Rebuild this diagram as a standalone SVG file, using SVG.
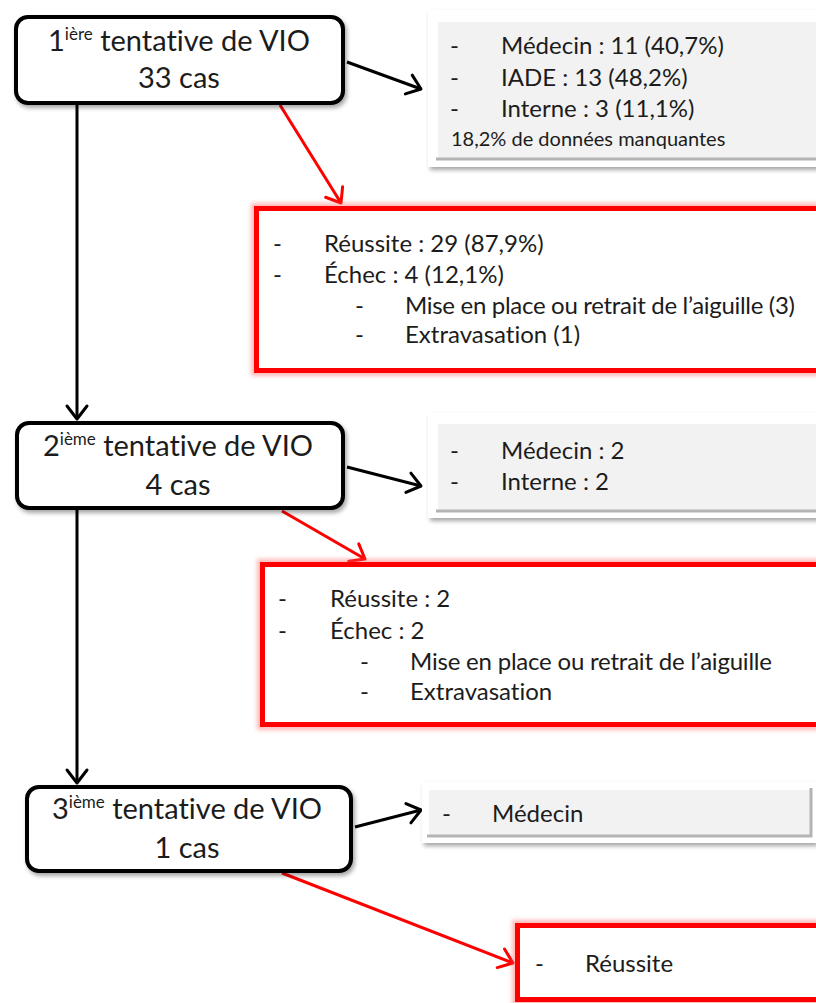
<svg xmlns="http://www.w3.org/2000/svg" width="816" height="1003" viewBox="0 0 816 1003">
<defs>
<style>
text{font-family:Lato,"Open Sans","Liberation Sans",sans-serif;fill:#1c1c1c;font-variant-ligatures:none;font-feature-settings:"liga" 0}
.t{font-size:29px}
.sup{font-size:17px}
.l{font-size:24px}
.s{font-size:20px}
.node{fill:#fff;stroke:#000;stroke-width:4}
.frame{fill:#fff}
.panel{fill:#f2f2f2}
.bev{fill:none;stroke:#b4b4b4;stroke-width:3}
.hl{fill:none;stroke:#fff;stroke-width:2}
.red{fill:#fff;stroke:#ff0000;stroke-width:5}
.glow{fill:none;stroke:#ff6060;stroke-width:11;opacity:.45}
.blk{fill:none;stroke:#000;stroke-width:3}
.rd{fill:none;stroke:#ff0000;stroke-width:3}
</style>
<filter id="sh" x="-10%" y="-10%" width="130%" height="140%">
<feDropShadow dx="2" dy="3" stdDeviation="2" flood-color="#000" flood-opacity="0.35"/>
</filter>
<filter id="bl" x="-10%" y="-20%" width="120%" height="140%">
<feGaussianBlur stdDeviation="2"/>
</filter>
<marker id="ab" markerUnits="userSpaceOnUse" markerWidth="20" markerHeight="26" viewBox="0 0 20 26" refX="16" refY="13" orient="auto">
<path d="M3,3 L16,13 L3,23" fill="none" stroke="#000" stroke-width="3" stroke-linecap="round" stroke-linejoin="round"/>
</marker>
<marker id="ar" markerUnits="userSpaceOnUse" markerWidth="20" markerHeight="26" viewBox="0 0 20 26" refX="16" refY="13" orient="auto">
<path d="M3,3 L16,13 L3,23" fill="none" stroke="#ff0000" stroke-width="3" stroke-linecap="round" stroke-linejoin="round"/>
</marker>
</defs>
<rect width="816" height="1003" fill="#fff"/>

<g id="connectors">
<line class="blk" x1="77" y1="105" x2="77" y2="419" marker-end="url(#ab)"/>
<line class="blk" x1="77" y1="510" x2="77" y2="783" marker-end="url(#ab)"/>
<line class="blk" x1="347" y1="62" x2="421" y2="89" marker-end="url(#ab)"/>
<line class="blk" x1="347" y1="467" x2="421" y2="486" marker-end="url(#ab)"/>
<line class="blk" x1="355" y1="827" x2="421" y2="810" marker-end="url(#ab)"/>
<line class="rd" x1="280" y1="105" x2="341" y2="203" marker-end="url(#ar)"/>
<line class="rd" x1="282" y1="511" x2="365" y2="559" marker-end="url(#ar)"/>
<line class="rd" x1="282" y1="873" x2="513" y2="963" marker-end="url(#ar)"/>
</g>

<g id="node1">
<rect class="node" x="16" y="17" width="327" height="86" rx="12" filter="url(#sh)"/>
<text class="t" x="179" y="51" text-anchor="middle">1<tspan class="sup" dy="-11">ière</tspan><tspan dy="11"> tentative de VIO</tspan></text>
<text class="t" x="179" y="88" text-anchor="middle">33 cas</text>
</g>

<g id="info1">
<rect class="frame" x="428" y="10" width="400" height="157" filter="url(#sh)"/>
<rect class="panel" x="436" y="20" width="400" height="140"/>
<polyline class="hl" points="437,159 437,21 836,21"/>
<line class="bev" x1="436" y1="159" x2="836" y2="159"/>
<text class="l" x="450" y="54">-</text>
<text class="l" x="501" y="54">Médecin : 11 (40,7%)</text>
<text class="l" x="450" y="86">-</text>
<text class="l" x="501" y="86">IADE : 13 (48,2%)</text>
<text class="l" x="450" y="117">-</text>
<text class="l" x="501" y="117">Interne : 3 (11,1%)</text>
<text class="s" x="451" y="146">18,2% de données manquantes</text>
</g>

<g id="result1">
<rect class="glow" x="256.5" y="208.5" width="600" height="162" filter="url(#bl)"/>
<rect class="red" x="256.5" y="208.5" width="600" height="162"/>
<text class="l" x="273" y="252">-</text>
<text class="l" x="324" y="252">Réussite : 29 (87,9%)</text>
<text class="l" x="273" y="283">-</text>
<text class="l" x="324" y="283">Échec : 4 (12,1%)</text>
<text class="l" x="355" y="314">-</text>
<text class="l" x="405" y="314" textLength="390" lengthAdjust="spacing">Mise en place ou retrait de l’aiguille (3)</text>
<text class="l" x="355" y="343">-</text>
<text class="l" x="405" y="343">Extravasation (1)</text>
</g>

<g id="node2">
<rect class="node" x="17" y="423" width="326" height="85" rx="12" filter="url(#sh)"/>
<text class="t" x="178" y="456" text-anchor="middle">2<tspan class="sup" dy="-11">ième</tspan><tspan dy="11"> tentative de VIO</tspan></text>
<text class="t" x="178" y="495" text-anchor="middle">4 cas</text>
</g>

<g id="info2">
<rect class="frame" x="428" y="413" width="400" height="105" filter="url(#sh)"/>
<rect class="panel" x="436" y="422" width="400" height="90"/>
<polyline class="hl" points="437,511 437,423 836,423"/>
<line class="bev" x1="436" y1="511" x2="836" y2="511"/>
<text class="l" x="450" y="459">-</text>
<text class="l" x="501" y="459">Médecin : 2</text>
<text class="l" x="450" y="490">-</text>
<text class="l" x="501" y="490">Interne : 2</text>
</g>

<g id="result2">
<rect class="glow" x="262.5" y="564.5" width="600" height="160" filter="url(#bl)"/>
<rect class="red" x="262.5" y="564.5" width="600" height="160"/>
<text class="l" x="278" y="607">-</text>
<text class="l" x="330" y="607">Réussite : 2</text>
<text class="l" x="278" y="639">-</text>
<text class="l" x="330" y="639">Échec : 2</text>
<text class="l" x="360" y="670">-</text>
<text class="l" x="410" y="670" textLength="362" lengthAdjust="spacing">Mise en place ou retrait de l’aiguille</text>
<text class="l" x="360" y="700">-</text>
<text class="l" x="410" y="700">Extravasation</text>
</g>

<g id="node3">
<rect class="node" x="27" y="787" width="324" height="84" rx="12" filter="url(#sh)"/>
<text class="t" x="187" y="819" text-anchor="middle">3<tspan class="sup" dy="-11">ième</tspan><tspan dy="11"> tentative de VIO</tspan></text>
<text class="t" x="187" y="858" text-anchor="middle">1 cas</text>
</g>

<g id="info3">
<rect class="frame" x="422" y="782" width="394" height="61" filter="url(#sh)"/>
<rect class="panel" x="427" y="788" width="385" height="49"/>
<polyline class="hl" points="428,836 428,789 811,789"/>
<polyline class="bev" points="427,836 811,836 811,788"/>
<text class="l" x="442" y="822">-</text>
<text class="l" x="492" y="822">Médecin</text>
</g>

<g id="result3">
<rect class="glow" x="517.5" y="925.5" width="400" height="74" filter="url(#bl)"/>
<rect class="red" x="517.5" y="925.5" width="400" height="74"/>
<text class="l" x="535" y="972">-</text>
<text class="l" x="585" y="972">Réussite</text>
</g>
</svg>
